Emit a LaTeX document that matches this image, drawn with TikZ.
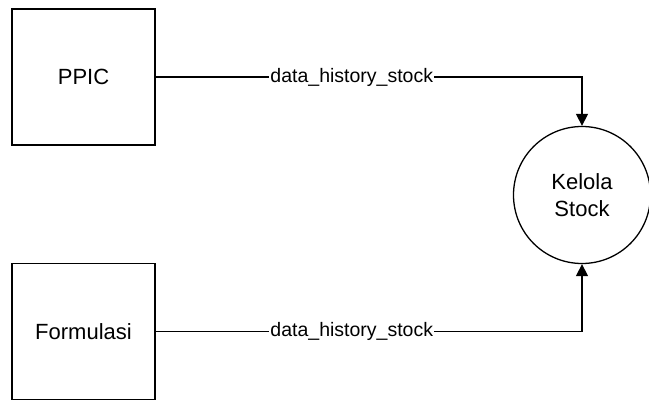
\documentclass[tikz,border=0pt]{standalone}
\usepackage{fontspec}
\setmainfont{Liberation Sans}
\usetikzlibrary{positioning,arrows.meta}

\begin{document}
\begin{tikzpicture}[x=1pt,y=-1pt,>={Triangle[length=12pt,width=12pt]},
  line width=1.3pt,node distance=254.5pt,
  font=\fontsize{19.5}{25}\selectfont,
  entity/.style={draw,rectangle,minimum width=143pt,minimum height=136pt,
    font=\fontsize{22}{27}\selectfont},
  process/.style={draw,circle,minimum size=137pt,align=center,
    font=\fontsize{22}{27}\selectfont},
  flow label/.style={fill=white,inner sep=1pt,pos=0.23}]

  \useasboundingbox (0,0) rectangle (649,401);

  \node[entity] (ppic) at (83.5,77) {PPIC};
  \node[entity] (formulasi) [below of=ppic] {Formulasi};
  \node[process] (kelola) at (582,195) {Kelola\\Stock};

  % data flows into the process
  \draw[->] (ppic.east) -| node[flow label] {data\_history\_stock} (kelola.north);
  \draw[->] (formulasi.east) -| node[flow label] {data\_history\_stock} (kelola.south);

\end{tikzpicture}
\end{document}
